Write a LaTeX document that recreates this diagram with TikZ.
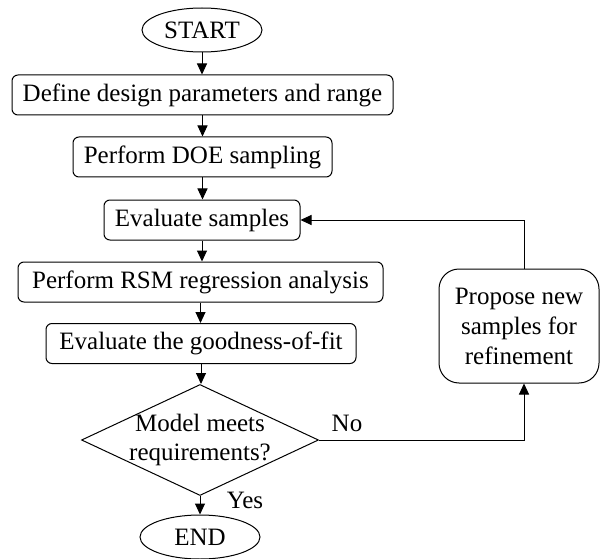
\documentclass[tikz,border=0pt]{standalone}
\usepackage{fontspec}
\setmainfont{Liberation Serif}
\usetikzlibrary{shapes.geometric,arrows.meta}
\begin{document}
\begin{tikzpicture}[x=1pt,y=-1pt,
  every node/.style={font=\fontsize{25}{30}\selectfont, inner sep=0pt},
  term/.style={draw, ellipse, line width=1pt, minimum width=120pt, minimum height=44pt},
  stepbox/.style={draw, rounded corners=6pt, line width=1pt, minimum height=40pt},
  decide/.style={draw, diamond, line width=1pt, minimum width=237pt, minimum height=111pt},
  conn/.style={line width=1pt, -{Triangle[length=11pt,width=10pt]}}
]
\useasboundingbox (0,0) rectangle (600,559);

\node[term] (start) at (202,30) {START};
\node[stepbox, minimum width=381pt] (b1) at (202.5,95) {Define design parameters and range};
\node[stepbox, minimum width=259pt] (b2) at (202.5,157) {Perform DOE sampling};
\node[stepbox, minimum width=196pt] (b3) at (202,220) {Evaluate samples};
\node[stepbox, minimum width=365pt] (b4) at (200.5,282) {Perform RSM regression analysis};
\node[stepbox, minimum width=310pt] (b5) at (201,343.5) {Evaluate the goodness-of-fit};
\node[decide, label={[align=center, font=\fontsize{25}{29}\selectfont]center:Model meets\\requirements?}] (dec) at (200,440) {};
\node[term] (end) at (200,537) {END};
\node[draw, rounded corners=20pt, line width=1pt, minimum width=160pt, minimum height=114pt, align=center] (prop) at (519,326) {Propose new\\samples for\\refinement};

\node (no) at (347,423) {No};
\node (yes) at (245,500) {Yes};

\draw[conn] (start.south) -- (start.south |- b1.north);
\draw[conn] (b1.south) -- (b1.south |- b2.north);
\draw[conn] (b2.south) -- (b2.south |- b3.north);
\draw[conn] (b3.south) -- (b3.south |- b4.north);
\draw[conn] (b4.south) -- (b4.south |- b5.north);
\draw[conn] (b5.south) -- (b5.south |- dec.north);
\draw[conn] (dec.south) -- (dec.south |- end.north);
\draw[conn] (dec.east) -| ([xshift=5pt]prop.south);
\draw[conn] ([xshift=5pt]prop.north) |- (b3.east);
\end{tikzpicture}
\end{document}
